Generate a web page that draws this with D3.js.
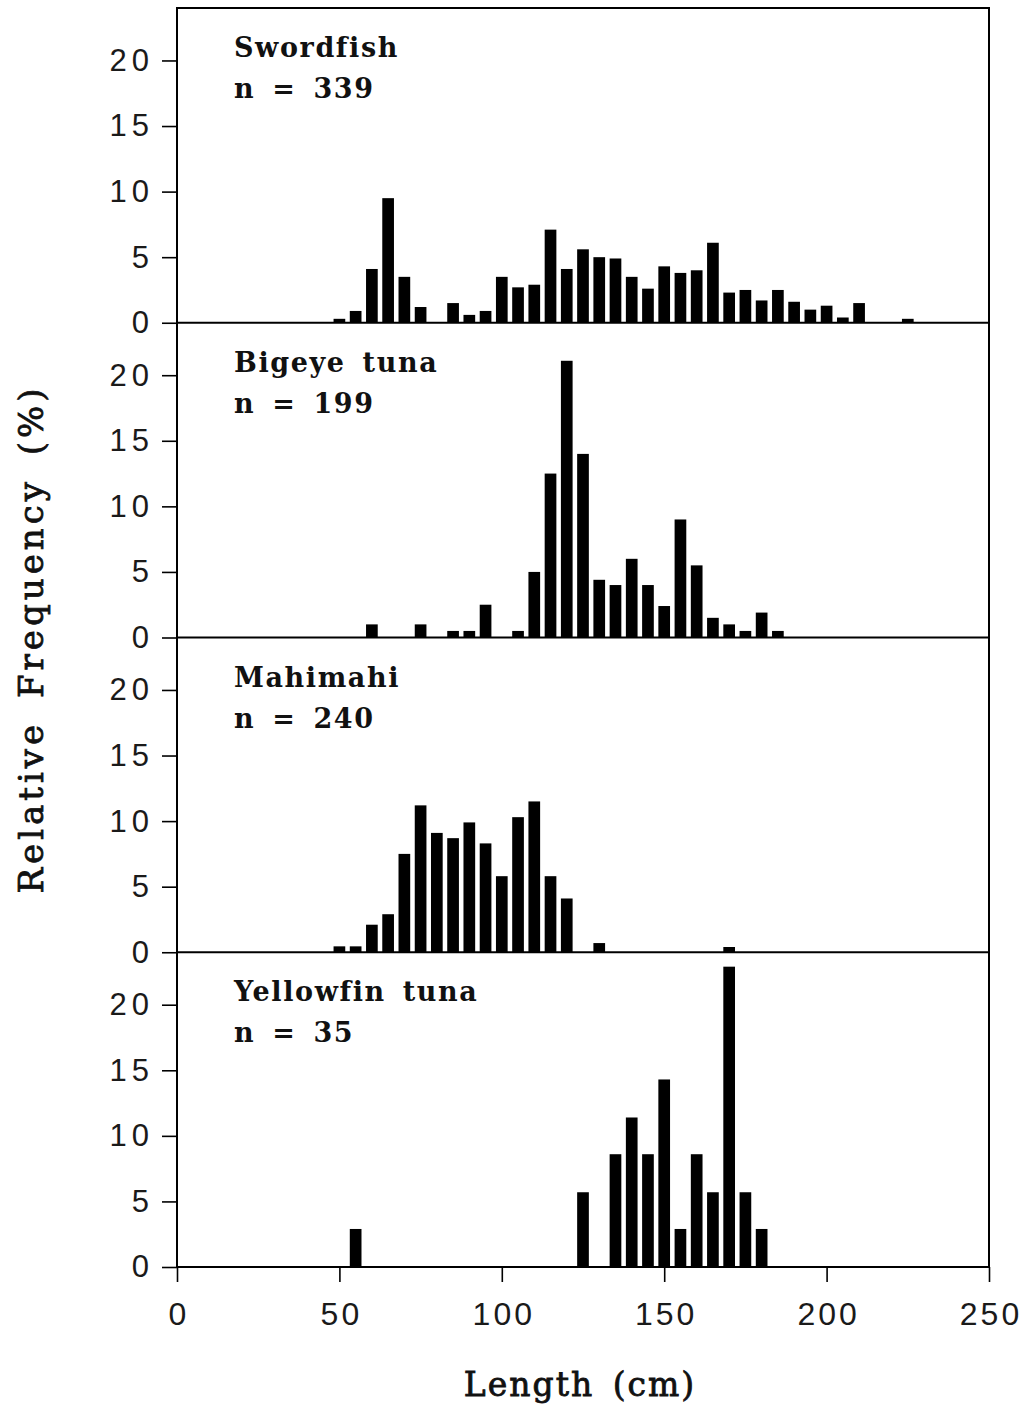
<!DOCTYPE html>
<html><head><meta charset="utf-8">
<script src="https://cdn.jsdelivr.net/npm/d3@7"></script>
<style>body{margin:0;background:#fff}</style></head>
<body><svg id="c" width="1023" height="1406"></svg>
<script>
// ---- data ----
const lengthTicks = [0, 50, 100, 150, 200, 250];
const freqTicks = [0, 5, 10, 15, 20];
const species = ["Swordfish", "Bigeye tuna", "Mahimahi", "Yellowfin tuna"];
const sampleSizes = [339, 199, 240, 35];

const swordfishLen = [50,55,60,65,70,75,85,90,95,100,105,110,115,120,125,130,135,140,145,150,155,160,165,170,175,180,185,190,195,200,205,210,225];
const swordfishPct = [0.3,0.9,4.1,9.5,3.5,1.2,1.5,0.6,0.9,3.5,2.7,2.9,7.1,4.1,5.6,5.0,4.9,3.5,2.6,4.3,3.8,4.0,6.1,2.3,2.5,1.7,2.5,1.6,1.0,1.3,0.4,1.5,0.3];

const bigeyeLen = [60,75,85,90,95,105,110,115,120,125,130,135,140,145,150,155,160,165,170,175,180,185];
const bigeyePct = [1.0,1.0,0.5,0.5,2.5,0.5,5.0,12.5,21.1,14.0,4.4,4.0,6.0,4.0,2.4,9.0,5.5,1.5,1.0,0.5,1.9,0.5];

const mahiLen = [50,55,60,65,70,75,80,85,90,95,100,105,110,115,120,130,170];
const mahiPct = [0.45,0.45,2.1,2.9,7.5,11.2,9.1,8.7,9.9,8.3,5.8,10.3,11.5,5.8,4.1,0.7,0.4];

const yellowLen = [55,125,135,140,145,150,155,160,165,170,175,180];
const yellowPct = [2.9,5.7,8.6,11.4,8.6,14.3,2.9,8.6,5.7,22.9,5.7,2.9];

const panelLens = [swordfishLen, bigeyeLen, mahiLen, yellowLen];
const panelPcts = [swordfishPct, bigeyePct, mahiPct, yellowPct];

// ---- layout ----
const svg = d3.select("#c");
const L = 177, R = 989, T = 8, B = 1267;
const ph = (B - T) / 4;
const x = d3.scaleLinear().domain([0, 250]).range([L, R]);
const barHalf = 1.8; // cm
const tickFont = "'Liberation Sans', Arial, sans-serif";
const serif = "'DejaVu Serif', serif";

species.forEach((name, i) => {
  const y0 = T + ph * (i + 1);
  const y = d3.scaleLinear().domain([0, 24]).range([y0, y0 - ph]);
  const g = svg.append("g");
  const data = panelLens[i].map((l, j) => ({ l, v: panelPcts[i][j] }));
  g.selectAll("rect.bar").data(data).join("rect")
    .attr("class", "bar")
    .attr("x", d => x(d.l - barHalf))
    .attr("width", d => x(d.l + barHalf) - x(d.l - barHalf))
    .attr("y", d => y(d.v))
    .attr("height", d => y(0) - y(d.v))
    .attr("fill", "#000");

  const ax = g.append("g").attr("transform", `translate(${L},0)`)
    .call(d3.axisLeft(y).tickValues(freqTicks).tickSize(15).tickPadding(13).tickFormat(d3.format("d")));
  ax.select(".domain").remove();
  ax.selectAll(".tick line").attr("stroke", "#000").attr("stroke-width", 1.6);
  ax.selectAll(".tick text").attr("font-family", tickFont).attr("font-size", 31)
    .attr("font-weight", 300)
    .attr("fill", "#1a1a1a").attr("letter-spacing", 5).attr("dx", 5);

  // baseline / separator
  g.append("line").attr("x1", L).attr("x2", R).attr("y1", y(0)).attr("y2", y(0))
    .attr("stroke", "#000").attr("stroke-width", 2);

  const lab = g.append("text").attr("font-family", serif).attr("font-weight", "bold")
    .attr("font-size", 27).attr("fill", "#111")
    .attr("letter-spacing", 1.6).attr("word-spacing", 6);
  lab.append("tspan").attr("x", 234).attr("y", y0 - ph + 49).text(name);
  lab.append("tspan").attr("x", 234).attr("y", y0 - ph + 90).text("n = " + sampleSizes[i]);
});

// frame
svg.append("rect").attr("x", L).attr("y", T).attr("width", R - L).attr("height", B - T)
  .attr("fill", "none").attr("stroke", "#000").attr("stroke-width", 2);

const xa = svg.append("g").attr("transform", `translate(0,${B})`)
  .call(d3.axisBottom(x).tickValues(lengthTicks).tickSize(15).tickPadding(20));
xa.select(".domain").remove();
xa.selectAll(".tick line").attr("stroke", "#000").attr("stroke-width", 1.6);
xa.selectAll(".tick text").attr("font-family", tickFont).attr("font-size", 32)
  .attr("font-weight", 300)
  .attr("fill", "#1a1a1a").attr("letter-spacing", 3).attr("dx", 1.5);

svg.append("text").attr("x", 580).attr("y", 1396).attr("text-anchor", "middle")
  .attr("font-family", serif).attr("font-size", 33).attr("fill", "#111")
  .attr("stroke", "#111").attr("stroke-width", 0.8)
  .attr("letter-spacing", 2).attr("word-spacing", 6)
  .text("Length (cm)");

svg.append("text").attr("transform", "translate(43,639) rotate(-90)").attr("text-anchor", "middle")
  .attr("font-family", serif).attr("font-size", 34).attr("fill", "#111")
  .attr("stroke", "#111").attr("stroke-width", 0.8)
  .attr("letter-spacing", 4).attr("word-spacing", 8)
  .text("Relative Frequency (%)");
</script>
</body></html>
